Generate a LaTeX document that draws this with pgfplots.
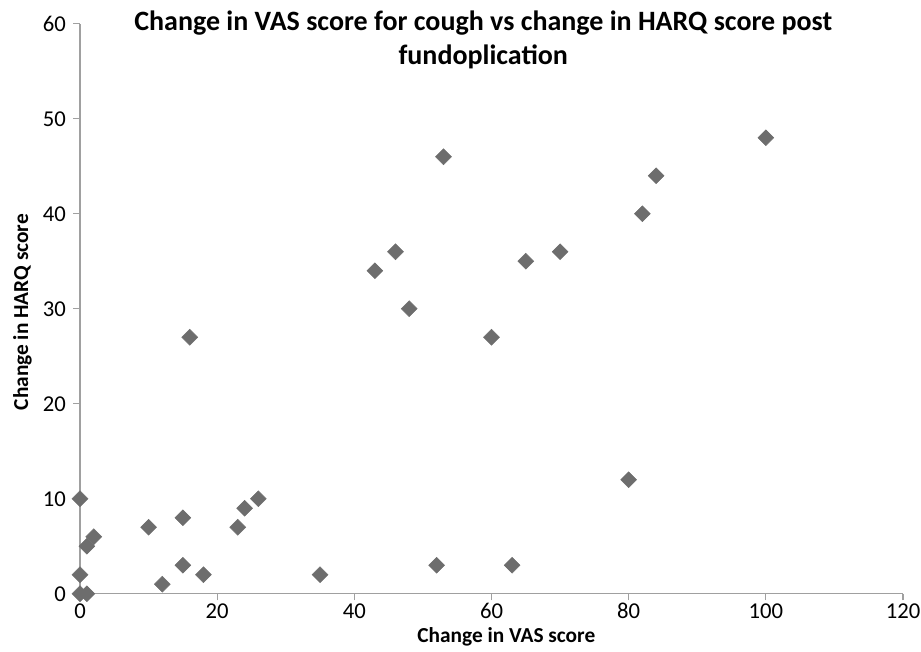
\documentclass[border=0pt]{standalone}
\usepackage{fontspec}
\setmainfont{Carlito}
\usepackage{pgfplots}
\pgfplotsset{compat=1.18}
\definecolor{axgray}{RGB}{160,160,160}
\definecolor{mk}{RGB}{109,109,109}
\begin{document}
\begin{tikzpicture}
\useasboundingbox (-60pt,-43pt) rectangle (630.75pt,445.3pt);
\begin{axis}[
  at={(0,0)}, anchor=south west,
  scale only axis, width=617.25pt, height=427.5pt,
  xmin=0, xmax=120, ymin=0, ymax=60,
  xtick={0,20,...,120}, ytick={0,10,...,60},
  axis x line*=bottom, axis y line*=left,
  axis line style={axgray, line width=0.9pt},
  tick style={axgray, line width=0.9pt},
  tick align=outside, major tick length=5pt,
  clip=false,
  /pgf/number format/assume math mode=true,
  ticklabel style={font=\fontsize{17}{20}\selectfont, text=black},
  xticklabel style={yshift=-1pt, inner sep=1pt},
  yticklabel style={xshift=-2pt},
  title={Change in VAS score for cough vs change in HARQ score post\\fundoplication},
  title style={at={(0.49,0.957)}, anchor=center, align=center,
    font=\fontsize{21}{25.5}\selectfont\bfseries},
  xlabel={Change in VAS score},
  ylabel={Change in HARQ score},
  xlabel style={at={(axis description cs:0.518,-0.075)}, anchor=center, inner sep=1pt,
    font=\fontsize{16}{19}\selectfont\bfseries},
  ylabel style={at={(axis description cs:-0.070,0.494)}, anchor=center, rotate=0,
    font=\fontsize{16}{19}\selectfont\bfseries},
]
\addplot[only marks, mark=square*, mark size=4.2pt, color=mk,
  every mark/.append style={rotate=45}] coordinates {
(0,10) (0,2) (0,0) (1,0) (1,5) (2,6) (10,7) (12,1) (15,8) (15,3)
(16,27) (18,2) (23,7) (24,9) (26,10) (35,2) (43,34) (46,36) (48,30)
(52,3) (53,46) (60,27) (63,3) (65,35) (70,36) (80,12) (82,40) (84,44) (100,48)
};
\end{axis}
\end{tikzpicture}
\end{document}
